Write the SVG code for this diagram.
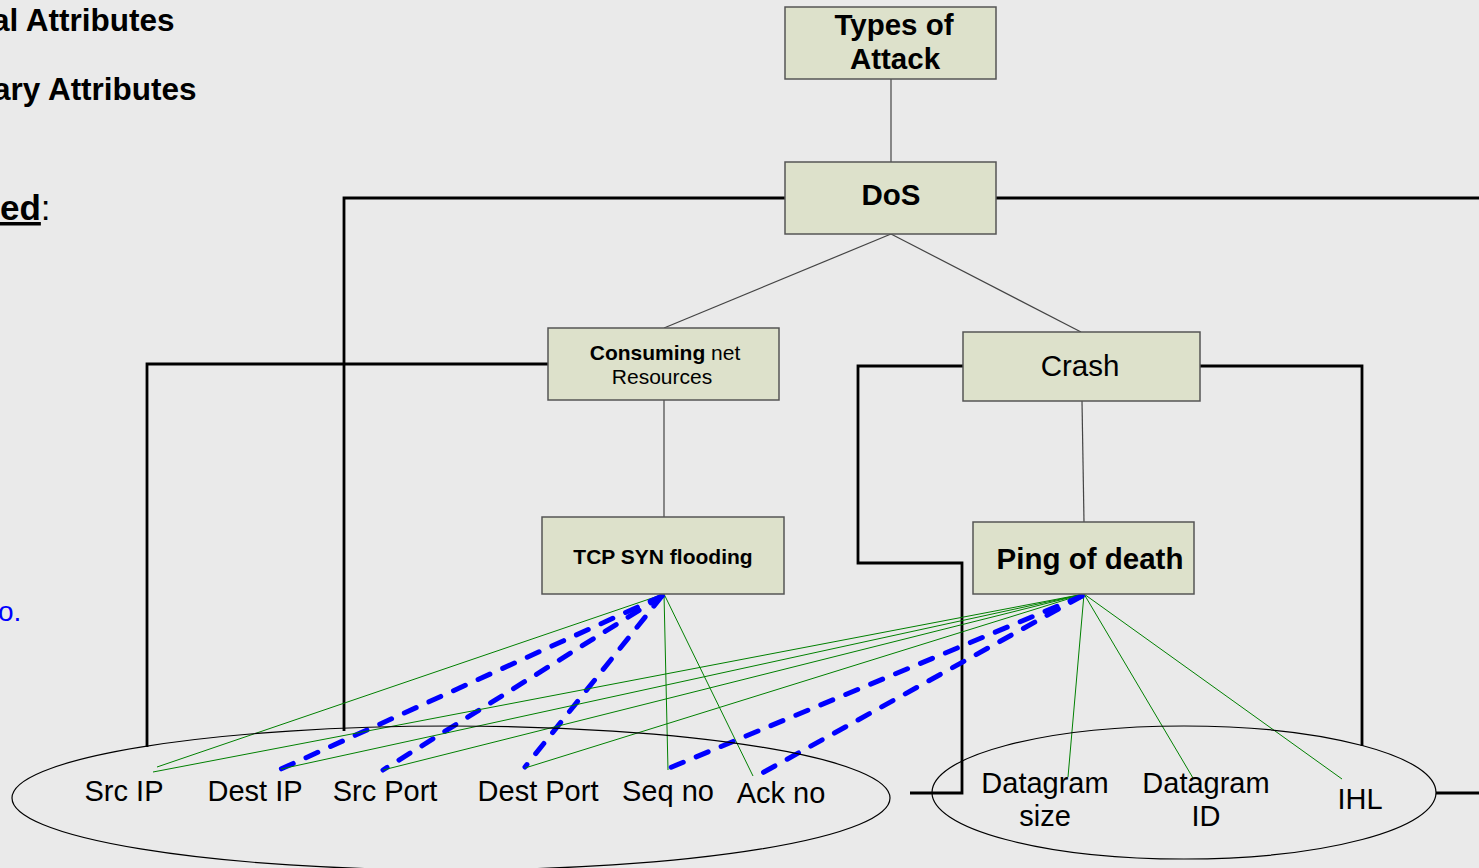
<svg xmlns="http://www.w3.org/2000/svg" width="1479" height="868" viewBox="0 0 1479 868">
  <style>
    .box { fill: #DDE1CB; stroke: #555555; stroke-width: 1.5; }
    .t { font-family: "Liberation Sans", Arial, sans-serif; fill: #000000; }
    .b { font-weight: bold; }
    .thin { stroke: #444444; stroke-width: 1.2; fill: none; }
    .thick { stroke: #000000; stroke-width: 2.8; fill: none; }
    .grn { stroke: #008000; stroke-width: 1; fill: none; }
    .dash { stroke: #0000FF; stroke-width: 5; fill: none; stroke-dasharray: 13 14; stroke-linecap: round; }
    .ell { fill: none; stroke: #000000; stroke-width: 1.2; }
    .lbl { font-family: "Liberation Sans", Arial, sans-serif; font-size: 29px; fill: #000000; text-anchor: middle; }
  </style>
  <rect width="1479" height="868" fill="#EAEAEA"/>

  <!-- side notes -->
  <g id="notes">
    <text class="t b" x="-8" y="31" font-size="31.5">al Attributes</text>
    <text class="t b" x="-7" y="100" font-size="31.5">ary Attributes</text>
    <text class="t" x="0" y="220" font-size="35"><tspan font-weight="bold" text-decoration="underline">ed</tspan>:</text>
    <text class="t" x="-2" y="621" font-size="28" style="fill:#0000FF">o.</text>
  </g>

  <!-- connectors -->
  <g id="connectors">
    <line class="thin" x1="891" y1="79" x2="891" y2="162"/>
    <line class="thin" x1="891" y1="234" x2="664" y2="328"/>
    <line class="thin" x1="891" y1="234" x2="1081" y2="332"/>
    <line class="thin" x1="664" y1="400" x2="664" y2="517"/>
    <line class="thin" x1="1082" y1="401" x2="1084" y2="522"/>

    <polyline class="thick" points="785,198 344,198 344,731"/>
    <line class="thick" x1="996" y1="198" x2="1479" y2="198"/>
    <polyline class="thick" points="548,364 147,364 147,747"/>
    <polyline class="thick" points="963,366 858,366 858,563 962,563 962,793 910,793"/>
    <polyline class="thick" points="1200,366 1362,366 1362,746"/>
    <line class="thick" x1="1436" y1="793" x2="1479" y2="793"/>

    <!-- TCP SYN flooding fields -->
    <line class="grn" x1="664" y1="594" x2="157" y2="767"/>
    <line class="grn" x1="664" y1="594" x2="668" y2="770"/>
    <line class="grn" x1="664" y1="594" x2="753" y2="776"/>
    <line class="dash" x1="662" y1="596" x2="281" y2="769"/>
    <line class="dash" x1="662" y1="596" x2="383" y2="770"/>
    <line class="dash" x1="662" y1="596" x2="525" y2="767"/>

    <!-- Ping of death fields -->
    <line class="grn" x1="1084" y1="594" x2="153" y2="772"/>
    <line class="grn" x1="1084" y1="594" x2="281" y2="769"/>
    <line class="grn" x1="1084" y1="594" x2="383" y2="770"/>
    <line class="grn" x1="1084" y1="594" x2="525" y2="768"/>
    <line class="grn" x1="1084" y1="594" x2="1068" y2="777"/>
    <line class="grn" x1="1084" y1="594" x2="1193" y2="778"/>
    <line class="grn" x1="1084" y1="594" x2="1342" y2="779"/>
    <line class="dash" x1="1082" y1="596" x2="667" y2="769"/>
    <line class="dash" x1="1082" y1="596" x2="755" y2="777"/>
  </g>

  <!-- nodes -->
  <g id="types-of-attack">
    <rect class="box" x="785" y="7" width="211" height="72"/>
    <text class="t b" x="894" y="35" font-size="29.5" text-anchor="middle">Types of</text>
    <text class="t b" x="895" y="69" font-size="29.5" text-anchor="middle">Attack</text>
  </g>
  <g id="dos">
    <rect class="box" x="785" y="162" width="211" height="72"/>
    <text class="t b" x="891" y="205" font-size="29.5" text-anchor="middle">DoS</text>
  </g>
  <g id="consuming">
    <rect class="box" x="548" y="328" width="231" height="72"/>
    <text class="t" x="665" y="360" font-size="21" text-anchor="middle"><tspan font-weight="bold">Consuming</tspan> net</text>
    <text class="t" x="662" y="384" font-size="21" text-anchor="middle">Resources</text>
  </g>
  <g id="crash">
    <rect class="box" x="963" y="332" width="237" height="69"/>
    <text class="t" x="1080" y="376" font-size="29.5" text-anchor="middle">Crash</text>
  </g>
  <g id="tcp-syn">
    <rect class="box" x="542" y="517" width="242" height="77"/>
    <text class="t b" x="663" y="564" font-size="21" text-anchor="middle">TCP SYN flooding</text>
  </g>
  <g id="ping">
    <rect class="box" x="973" y="522" width="221" height="72"/>
    <text class="t b" x="1090" y="569" font-size="29.5" text-anchor="middle">Ping of death</text>
  </g>

  <!-- field sets -->
  <g id="tcp-fields">
    <ellipse class="ell" cx="451" cy="798" rx="439" ry="72"/>
    <text class="lbl" x="124" y="801">Src IP</text>
    <text class="lbl" x="255" y="801">Dest IP</text>
    <text class="lbl" x="385" y="801">Src Port</text>
    <text class="lbl" x="538" y="801">Dest Port</text>
    <text class="lbl" x="668" y="801">Seq no</text>
    <text class="lbl" x="781" y="803">Ack no</text>
  </g>
  <g id="ip-fields">
    <ellipse class="ell" cx="1184" cy="792.5" rx="252" ry="66.5"/>
    <text class="lbl" x="1045" y="793">Datagram</text>
    <text class="lbl" x="1045" y="826">size</text>
    <text class="lbl" x="1206" y="793">Datagram</text>
    <text class="lbl" x="1206" y="826">ID</text>
    <text class="lbl" x="1360" y="809">IHL</text>
  </g>
</svg>
